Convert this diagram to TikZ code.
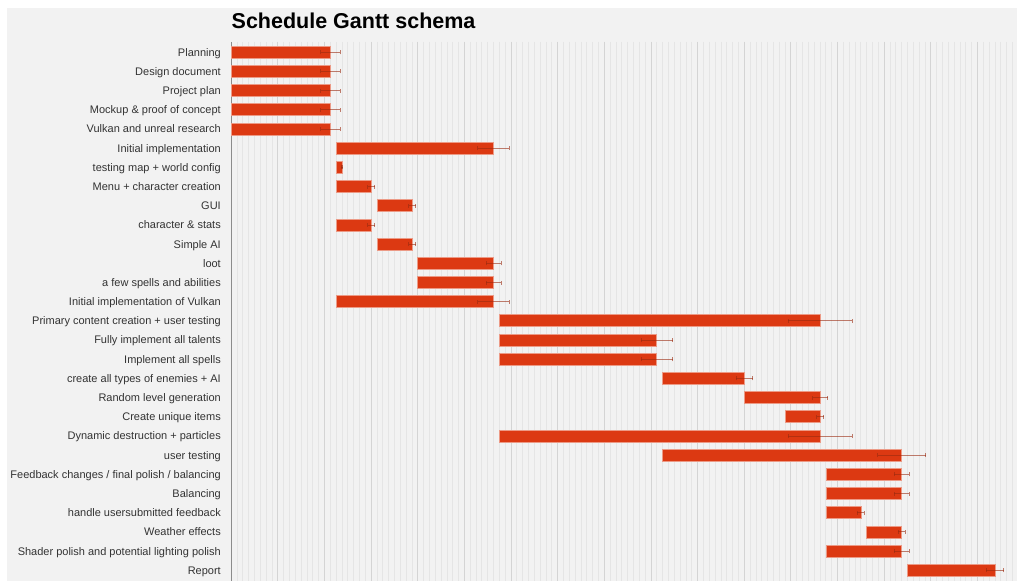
\documentclass[tikz,border=0pt]{standalone}
\usepackage{fontspec}
\setmainfont{Liberation Sans}
\definecolor{bgc}{HTML}{F2F2F2}
\definecolor{barc}{HTML}{DC3912}
\definecolor{barlinec}{HTML}{EC9A86}
\definecolor{minorc}{HTML}{E5E5E5}
\definecolor{majorc}{HTML}{D4D4D4}
\definecolor{axisc}{HTML}{8C8C8C}
\definecolor{errc}{HTML}{9A2A10}
\definecolor{lblc}{HTML}{333333}
\tikzset{
  lab/.style={anchor=base east, inner sep=0pt, text=lblc, font=\fontsize{11}{13}\selectfont},
  barstyle/.style={fill=barc, draw=barlinec, line width=0.8pt},
  errstyle/.style={draw=errc, draw opacity=0.6, line width=0.9pt},
  minorline/.style={draw=minorc, line width=1pt},
  majorline/.style={draw=majorc, line width=1pt},
  axisline/.style={draw=axisc, line width=1.3pt},
  titlestyle/.style={anchor=base west, inner sep=0pt, text=black, font=\bfseries\fontsize{21.5}{25}\selectfont}
}
\newcommand\ganttrow[4]{%
  \pgfmathsetmacro\yy{52.3+19.185*#1}%
  \pgfmathsetmacro\xs{231.3+5.83*#3}%
  \pgfmathsetmacro\xe{231.3+5.83*#4}%
  \pgfmathsetmacro\er{0.583*(#4-#3)}%
  \node[lab] (lab#1) at (221,\yy+3.9) {#2};
  \draw[barstyle] (\xs,\yy-6) rectangle (\xe,\yy+6);
  \coordinate (el#1) at (\xe-\er,\yy);
  \coordinate (er#1) at (\xe+\er,\yy);
  \draw[errstyle] (el#1) -- (er#1);
  \draw[errstyle] ([yshift=-2pt]el#1) -- ([yshift=2pt]el#1);
  \draw[errstyle] ([yshift=-2pt]er#1) -- ([yshift=2pt]er#1);
}
\begin{document}
\begin{tikzpicture}[x=1pt,y=-1pt]
\useasboundingbox (0,0) rectangle (1017,583);
\fill[white] (0,0) rectangle (1017,583);
\fill[bgc] (7,8) rectangle (1017,580.5);
% grid
\foreach \d in {1,...,134} {
  \draw[minorline] ({231.3+5.83*\d},42) -- ({231.3+5.83*\d},580.5);
}
\foreach \d in {8,16,...,128} {
  \draw[majorline] ({231.3+5.83*\d},42) -- ({231.3+5.83*\d},580.5);
}
\draw[axisline] (231.3,42) -- (231.3,580.5);
% title
\node[titlestyle] (title) at (231.5,29) {Schedule Gantt schema};
% rows
\ganttrow{0}{Planning}{0}{17}
\ganttrow{1}{Design document}{0}{17}
\ganttrow{2}{Project plan}{0}{17}
\ganttrow{3}{Mockup \& proof of concept}{0}{17}
\ganttrow{4}{Vulkan and unreal research}{0}{17}
\ganttrow{5}{Initial implementation}{18}{45}
\ganttrow{6}{testing map + world config}{18}{19}
\ganttrow{7}{Menu + character creation}{18}{24}
\ganttrow{8}{GUI}{25}{31}
\ganttrow{9}{character \& stats}{18}{24}
\ganttrow{10}{Simple AI}{25}{31}
\ganttrow{11}{loot}{32}{45}
\ganttrow{12}{a few spells and abilities}{32}{45}
\ganttrow{13}{Initial implementation of Vulkan}{18}{45}
\ganttrow{14}{Primary content creation + user testing}{46}{101}
\ganttrow{15}{Fully implement all talents}{46}{73}
\ganttrow{16}{Implement all spells}{46}{73}
\ganttrow{17}{create all types of enemies + AI}{74}{88}
\ganttrow{18}{Random level generation}{88}{101}
\ganttrow{19}{Create unique items}{95}{101}
\ganttrow{20}{Dynamic destruction + particles}{46}{101}
\ganttrow{21}{user testing}{74}{115}
\ganttrow{22}{Feedback changes / final polish / balancing}{102}{115}
\ganttrow{23}{Balancing}{102}{115}
\ganttrow{24}{handle usersubmitted feedback}{102}{108}
\ganttrow{25}{Weather effects}{109}{115}
\ganttrow{26}{Shader polish and potential lighting polish}{102}{115}
\ganttrow{27}{Report}{116}{131}
\end{tikzpicture}
\end{document}
